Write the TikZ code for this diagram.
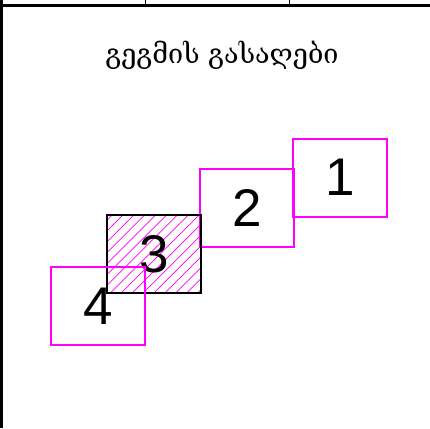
\documentclass[tikz,border=0pt]{standalone}
\usepackage{fontspec}
\setmainfont{Liberation Sans}
\newfontfamily\geofont{DejaVu Serif}
\definecolor{keypink}{RGB}{255,0,255}

\begin{document}
\begin{tikzpicture}[x=1pt,y=-1pt,
    keybox/.style={draw=keypink,line width=2pt,minimum width=94pt,minimum height=78pt,
      inner sep=0pt,font=\fontsize{53}{53}\selectfont},
  ]
  \def\bot{293} % bottom of the hatched box
  \def\side{78} % run of one hatch line
  \useasboundingbox (0,0) rectangle (430,428);

  % Frame
  \draw[line width=2.5pt] (1.5,0) -- (1.5,428);
  \draw[line width=2.5pt] (1.5,5.5) -- (430,5.5);
  \draw[line width=1pt] (145,0) -- (145,5.5);
  \draw[line width=1pt] (289,0) -- (289,5.5);

  % Title
  \node (title) at (222,55) {\geofont\fontsize{27}{27}\selectfont გეგმის გასაღები};

  % Key boxes
  \node[keybox] (k1) at (340,177.5) {1};
  \node[keybox] (k2) at (247,208) {2};

  % Hatching of box 3
  \begin{scope}
    \clip (106,215) rectangle (202,\bot);
    \foreach \i in {0,...,16}
      \draw[keypink,line width=0.7pt] (34+10.9*\i,\bot) -- ++(\side,-\side);
  \end{scope}
  \node[keybox,draw=black] (k3) at (154,254) {3};
  \node[keybox] (k4) at (98,306) {4};

\end{tikzpicture}
\end{document}
